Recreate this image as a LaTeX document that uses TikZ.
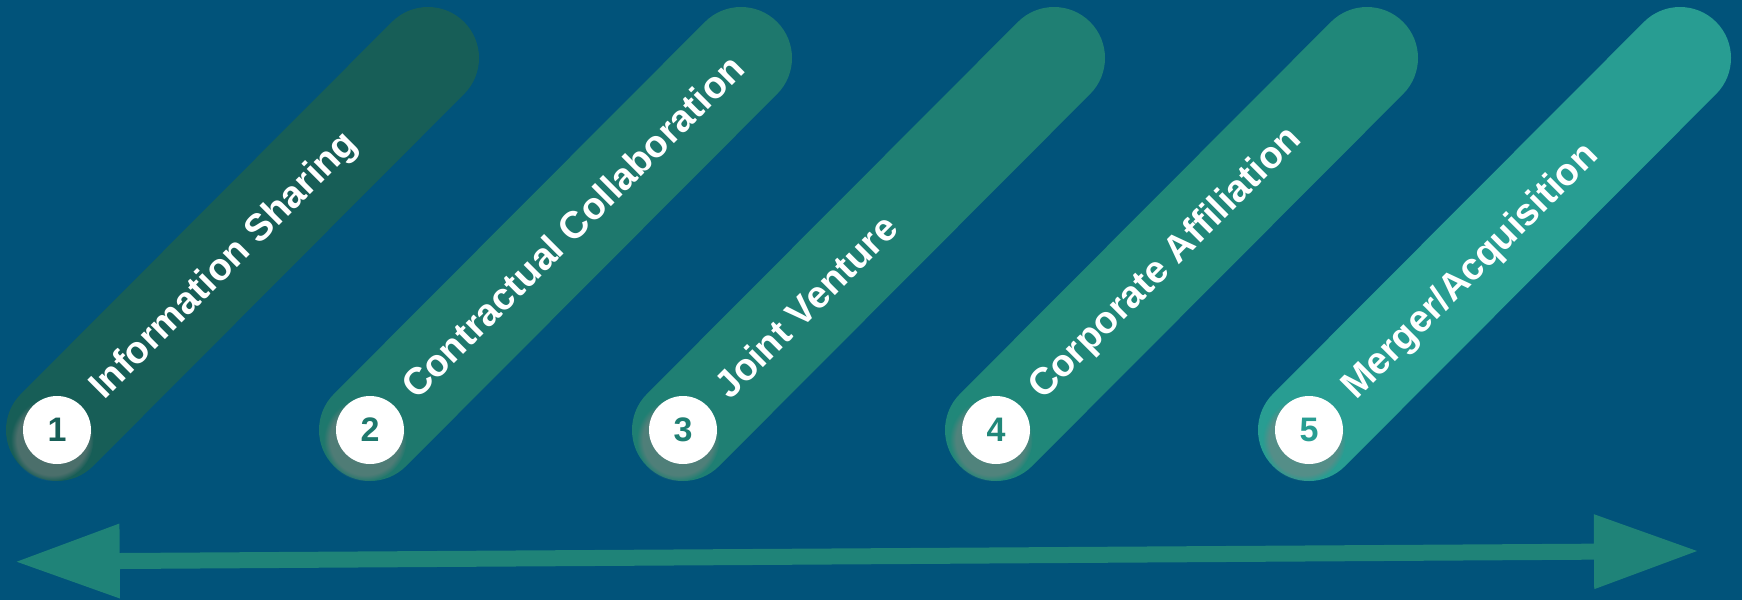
\documentclass[tikz,border=0pt]{standalone}
\usepackage{fontspec}
\setmainfont{Liberation Sans}
\usetikzlibrary{calc,shadows}
\definecolor{bgblue}{HTML}{01537A}
\definecolor{pillA}{HTML}{175E57}
\definecolor{pillB}{HTML}{1E786D}
\definecolor{pillC}{HTML}{1F7F73}
\definecolor{pillD}{HTML}{208779}
\definecolor{pillE}{HTML}{289D92}
\definecolor{arrowcol}{HTML}{1F8378}
\tikzset{
  pill/.style={line width=102pt, line cap=round},
  numcircle/.style={circle, fill=white, minimum size=68pt, inner sep=0pt,
    font=\fontsize{34}{36}\selectfont\bfseries,
    circular drop shadow={shadow xshift=-4pt, shadow yshift=-8pt, opacity=0.5, shadow scale=1.22}},
  lbl/.style={rotate=45, anchor=base west, inner sep=0pt, text=white,
    font=\fontsize{38}{40}\selectfont\bfseries}
}
\begin{document}
\begin{tikzpicture}[x=1pt,y=-1pt]
\fill[bgblue] (0,0) rectangle (1742,600);
\useasboundingbox (0,0) rectangle (1742,600);
% pill end points
\foreach \i in {1,...,5}{
  \coordinate (b\i) at ({57+313*(\i-1)},430);
  \coordinate (t\i) at ({428+313*(\i-1)},58);
}
\draw[pill, pillA] (b1) -- (t1);
\draw[pill, pillB] (b2) -- (t2);
\draw[pill, pillC] (b3) -- (t3);
\draw[pill, pillD] (b4) -- (t4);
\draw[pill, pillE] (b5) -- (t5);
% number circles
\node[numcircle, text=pillA] (n1) at (b1) {1};
\node[numcircle, text=pillB] (n2) at (b2) {2};
\node[numcircle, text=pillC] (n3) at (b3) {3};
\node[numcircle, text=pillD] (n4) at (b4) {4};
\node[numcircle, text=pillE] (n5) at (b5) {5};
% labels
\node[lbl] (l1) at ($(b1)+(47,-29)$) {Information Sharing};
\node[lbl] (l2) at ($(b2)+(47,-29)$) {Contractual Collaboration};
\node[lbl] (l3) at ($(b3)+(47,-29)$) {Joint Venture};
\node[lbl] (l4) at ($(b4)+(47,-29)$) {Corporate Affiliation};
\node[lbl] (l5) at ($(b5)+(47,-29)$) {Merger/Acquisition};
% double arrow
\coordinate (aL) at (16.7,561.7);
\coordinate (aR) at (1697,551);
\fill[arrowcol] (aL) -- (119.9,598.5) -- (119.75,569.0) -- (1594.05,559.66)
  -- (1594.24,589.16) -- (aR) -- (1593.76,514.16) -- (1593.95,543.66)
  -- (119.65,553.0) -- (119.46,523.5) -- cycle;
\end{tikzpicture}
\end{document}
